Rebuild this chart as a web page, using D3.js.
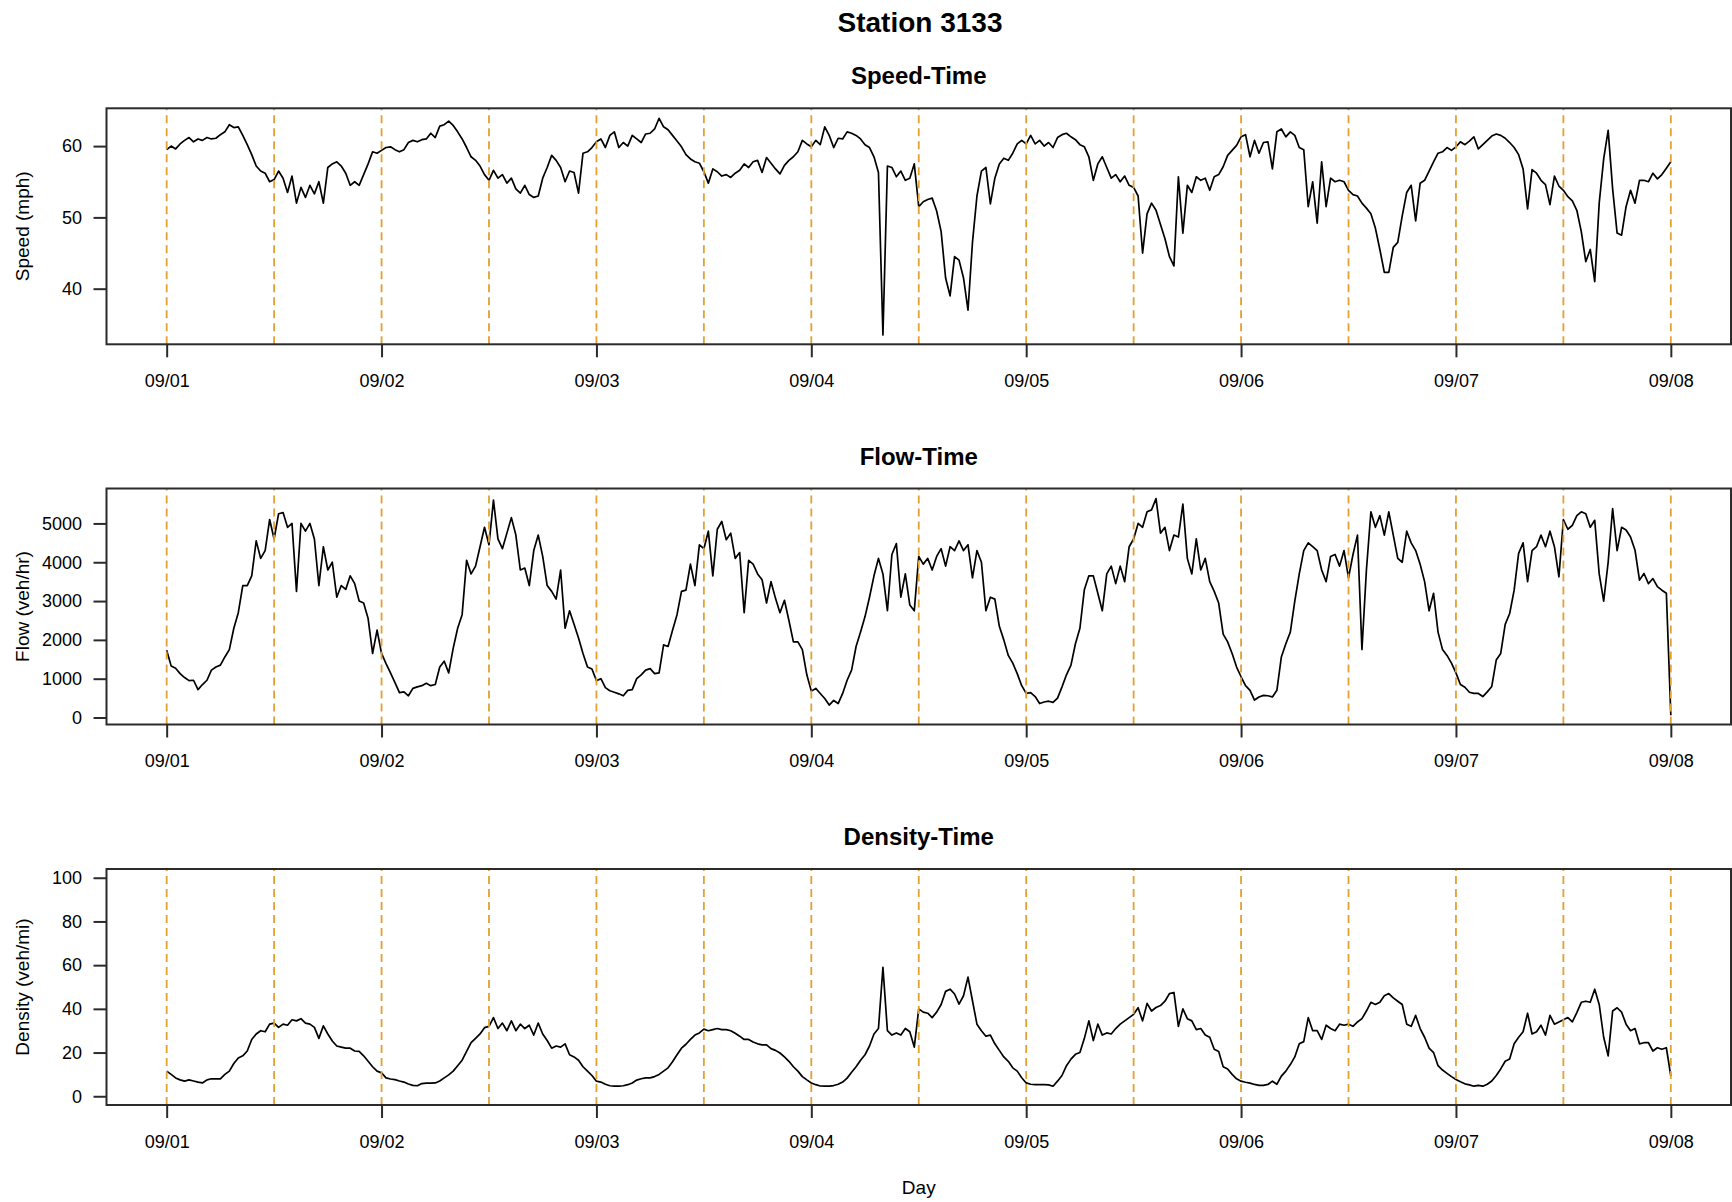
<!DOCTYPE html>
<head>
<meta charset="UTF-8">

<!-- Load d3.js -->
<script src="https://d3js.org/d3.v7.min.js"></script>
<style>
  body { margin: 0; background: #fff; }
  svg { display: block; }
  text { font-family: "Liberation Sans", Arial, sans-serif; fill: #000; }
</style>
</head>

<body>
<div id="my_dataviz"></div>

<script>

// readings every 30 minutes, from 09/01 00:00 up to 09/08 00:00
var stepsPerDay = 48;
var dayLabels = ["09/01", "09/02", "09/03", "09/04", "09/05", "09/06", "09/07", "09/08"];
var halfDays = [0, 0.5, 1, 1.5, 2, 2.5, 3, 3.5, 4, 4.5, 5, 5.5, 6, 6.5, 7];

// speed (mph)
var speed = [
  59.5,60.0,59.6,60.3,60.8,61.2,60.6,61.0,60.8,61.2,61.0,61.1,61.6,62.0,63.0,62.6,62.7,61.5,60.2,58.8,57.2,56.5,56.2,55.0,55.3,56.5,55.5,53.5,55.8,52.0,54.2,52.8,54.5,53.3,55.0,52.0,57.0,57.5,57.8,57.2,56.2,54.5,55.0,54.5,56.0,57.5,59.2,59.0,
  59.4,59.8,59.9,59.5,59.2,59.5,60.5,60.8,60.6,60.9,61.0,61.8,61.2,62.8,63.0,63.5,62.9,62.0,61.0,59.8,58.5,58.0,57.2,56.0,55.2,56.6,55.5,56.0,54.8,55.5,54.0,53.4,54.5,53.2,52.8,53.0,55.5,57.0,58.7,58.0,57.0,55.0,56.5,56.3,53.4,59.0,59.2,59.8,
  60.6,61.0,59.8,61.5,62.0,59.8,60.5,60.0,61.5,61.0,60.5,61.7,61.8,62.4,63.9,62.7,62.3,61.5,60.7,59.9,58.8,58.2,57.8,57.6,56.4,54.8,56.8,56.4,55.8,56.0,55.6,56.2,56.6,57.5,57.0,57.8,58.0,56.3,58.4,57.6,56.8,56.1,57.3,58.0,58.5,59.2,60.8,60.3,
  59.9,60.8,60.2,62.7,61.5,59.8,61.1,61.0,62.0,61.8,61.5,61.0,60.2,59.8,58.5,56.3,33.5,57.2,57.0,55.7,56.5,55.2,55.5,57.5,51.5,52.2,52.5,52.7,50.9,48.0,41.5,39.0,44.5,44.0,41.5,37.0,46.5,53.0,56.5,57.0,51.9,55.5,57.5,58.3,58.0,59.0,60.3,60.8,
  60.3,61.5,60.3,60.8,60.0,60.5,59.8,61.2,61.6,61.8,61.3,60.9,60.2,59.9,58.5,55.2,57.5,58.5,57.0,55.5,56.0,55.0,55.8,54.5,54.2,53.0,45.0,50.5,52.0,51.0,49.0,47.0,44.5,43.2,55.7,47.8,54.5,53.5,55.7,55.2,55.5,53.8,55.7,56.0,57.1,58.7,59.4,60.1,
  61.3,61.6,58.5,60.8,59.0,60.5,60.6,56.8,62.0,62.4,61.3,62.0,61.5,59.8,59.5,51.5,55.0,49.2,57.8,51.5,55.5,55.0,55.2,55.0,53.8,53.2,53.0,52.0,51.3,50.5,48.5,45.5,42.3,42.3,45.8,46.5,50.2,53.5,54.5,49.5,54.8,55.2,56.5,57.8,59.0,59.2,59.8,59.4,
  59.9,60.6,60.2,60.7,61.3,59.6,60.2,60.8,61.4,61.7,61.5,61.1,60.5,59.8,58.8,56.8,51.2,56.7,56.2,55.2,54.6,51.8,55.8,54.4,53.8,52.9,52.3,51.0,48.0,43.8,45.5,41.0,52.0,58.2,62.2,54.0,47.8,47.5,51.5,53.8,52.0,55.2,55.2,55.0,56.2,55.4,56.0,56.9,57.8
];

// flow (veh/hr)
var flow = [
  1735,1330,1270,1130,1030,950,960,720,850,960,1220,1300,1350,1560,1750,2300,2700,3400,3400,3650,4550,4100,4300,5100,4600,5250,5280,4900,5000,3250,5000,4800,5000,4600,3400,4400,3800,4000,3100,3400,3300,3650,3450,3000,2950,2550,1650,2250,
  1650,1390,1150,900,640,660,560,750,790,820,880,820,850,1300,1450,1150,1780,2300,2650,4050,3700,3900,4400,4900,4450,5600,4600,4350,4750,5150,4700,3800,3850,3400,4300,4700,4150,3400,3250,3050,3800,2300,2750,2400,2050,1650,1300,1250,
  950,1000,770,690,650,610,560,700,720,1000,1100,1220,1260,1130,1150,1870,1830,2250,2650,3250,3280,3950,3400,4450,4350,4800,3650,4850,5050,4580,4750,4100,4250,2700,4050,3950,3700,3550,2950,3500,3070,2700,3020,2500,1950,1950,1750,1100,
  680,750,620,490,320,440,360,620,960,1220,1830,2200,2600,3100,3650,4100,3700,2750,4200,4480,3100,3700,2900,2750,4150,3950,4100,3800,4150,4350,3900,4400,4300,4550,4300,4450,3600,4300,4000,2750,3100,3050,2350,2000,1600,1400,1130,820,
  620,640,540,360,400,420,390,500,790,1100,1350,1900,2300,3300,3650,3650,3200,2750,3700,3900,3450,3900,3500,4400,4600,5000,4900,5300,5350,5640,4750,4900,4300,4700,4650,5500,4100,3700,4600,3800,4100,3500,3250,2950,2150,1950,1650,1300,
  1050,820,700,450,530,570,560,530,700,1560,1900,2200,3000,3700,4300,4500,4400,4300,3800,3500,4150,4200,3900,4300,3600,4200,4700,1750,3800,5300,4900,5200,4700,5300,4700,4100,4000,4800,4500,4300,3950,3500,2750,3200,2200,1750,1600,1400,
  1150,850,780,650,620,620,540,660,800,1480,1650,2400,2680,3280,4230,4500,3500,4300,4400,4700,4400,4800,4400,3625,5100,4850,4950,5200,5300,5250,4900,5080,3700,3000,4000,5380,4300,4900,4830,4650,4310,3540,3710,3450,3580,3370,3280,3200,60
];

// density (veh/mi)
var density = [
  11.5,10.0,8.4,7.5,6.9,7.5,7.0,6.5,6.1,7.5,8.0,8.0,8.0,10.0,11.5,15.0,17.5,18.5,20.7,26.0,28.5,30.0,29.5,33.0,33.5,31.5,33.0,32.5,35.0,34.5,35.5,33.5,33.0,31.5,26.5,32.2,28.5,25.3,23.0,22.5,22.0,22.0,20.7,20.5,18.5,16.0,13.5,11.5,
  10.7,8.4,7.9,7.6,7.0,6.5,5.6,5.0,4.8,5.8,6.0,6.0,6.1,7.0,8.4,9.8,11.5,14.0,16.5,20.5,24.5,26.5,28.5,31.4,32.0,36.0,31.0,33.5,30.0,34.5,30.0,33.0,31.0,32.5,28.0,33.5,28.5,25.5,22.0,23.0,22.5,24.0,19.0,18.0,16.5,13.5,11.5,9.5,
  6.9,6.5,5.5,4.8,4.6,4.6,4.8,5.3,6.1,7.4,8.0,8.4,8.4,9.0,10.0,11.5,13.0,15.8,19.0,22.0,23.8,26.0,28.0,29.0,30.7,30.0,30.5,31.0,30.5,30.5,30.0,28.8,27.5,26.0,26.0,24.8,24.0,23.5,23.5,21.8,21.0,19.8,18.0,16.0,13.5,11.5,9.0,7.5,
  6.1,5.3,4.7,4.6,4.6,4.9,5.5,6.5,8.3,11.0,13.5,16.5,19.0,23.0,28.5,31.0,59.0,30.0,28.0,29.0,28.0,31.0,29.5,22.5,40.0,38.5,38.0,36.0,38.5,42.0,48.0,49.0,46.8,42.2,46.0,54.5,43.7,33.0,30.0,27.5,28.0,24.0,21.0,18.0,16.0,13.0,11.5,8.5,
  6.1,5.5,5.3,5.3,5.3,5.2,4.6,6.9,9.5,14.0,17.0,19.2,20.0,26.5,34.5,25.5,33.0,28.0,29.0,28.5,31.0,33.0,34.5,36.0,37.5,40.5,34.5,42.5,39.0,40.6,41.5,43.5,47.0,47.5,32.0,40.0,35.5,34.5,30.5,31.0,28.0,27.0,21.5,20.5,13.5,12.5,10.0,8.0,
  6.9,6.4,6.0,5.4,5.0,5.0,5.4,6.9,5.5,9.2,11.5,14.5,18.0,24.0,25.0,36.0,30.0,30.0,26.0,32.5,31.0,30.0,33.0,32.5,33.0,32.0,34.0,35.5,39.0,43.0,42.0,43.0,46.0,47.0,45.0,43.5,42.0,33.0,32.0,37.0,31.0,27.0,22.0,20.0,14.0,12.0,10.5,9.0,
  7.7,6.6,5.7,5.2,4.6,5.0,4.6,5.5,7.0,9.5,12.5,16.0,17.0,24.0,27.0,29.5,38.0,28.5,29.5,32.5,28.0,37.0,33.0,34.0,35.0,36.0,34.0,38.3,43.0,43.5,43.0,49.0,42.0,27.0,18.5,39.0,40.5,38.5,33.0,30.0,31.0,24.0,24.5,24.5,20.7,22.2,21.5,22.2,9.2
];

var speedTicks = [40, 50, 60];
var flowTicks = [0, 1000, 2000, 3000, 4000, 5000];
var densityTicks = [0, 20, 40, 60, 80, 100];

// set the dimensions of the page and of each panel
var width = 1732, height = 1202;
var boxLeft = 106.5, boxRight = 1731, boxHeight = 236;
var midX = (boxLeft + boxRight) / 2;

var svg = d3.select("#my_dataviz")
  .append("svg")
    .attr("width", width)
    .attr("height", height);

// time axis in days since 09/01 00:00 (R style 4% padding)
var x = d3.scaleLinear()
  .domain([-0.28, 7.28])
  .range([boxLeft, boxRight]);

var panels = [
  { title: "Speed-Time",   label: "Speed (mph)",      values: speed,   ticks: speedTicks,   domain: [32.2, 65.3], top: 108.3 },
  { title: "Flow-Time",    label: "Flow (veh/hr)",    values: flow,    ticks: flowTicks,    domain: [-180, 5900], top: 488.5 },
  { title: "Density-Time", label: "Density (veh/mi)", values: density, ticks: densityTicks, domain: [-4, 104],    top: 869 }
];

panels.forEach(function(p) {
  var y = d3.scaleLinear()
    .domain(p.domain)
    .range([p.top + boxHeight, p.top]);

  var g = svg.append("g");

  // the series
  var line = d3.line()
    .x(function(d, i) { return x(i / stepsPerDay); })
    .y(function(d) { return y(d); });

  g.append("path")
    .datum(p.values)
    .attr("fill", "none")
    .attr("stroke", "#000")
    .attr("stroke-width", 1.7)
    .attr("stroke-linejoin", "round")
    .attr("d", line);

  // dashed lines every 12 hours
  g.selectAll(".half")
    .data(halfDays)
    .enter()
    .append("line")
      .attr("x1", function(d) { return x(d); })
      .attr("x2", function(d) { return x(d); })
      .attr("y1", p.top + boxHeight)
      .attr("y2", p.top)
      .attr("stroke", "#E3A033")
      .attr("stroke-width", 1.8)
      .attr("stroke-dasharray", "8,5");

  // box
  g.append("rect")
    .attr("x", boxLeft)
    .attr("y", p.top)
    .attr("width", boxRight - boxLeft)
    .attr("height", boxHeight)
    .attr("fill", "none")
    .attr("stroke", "#2b2b2b")
    .attr("stroke-width", 2);

  // X axis
  var xAxis = g.append("g")
    .attr("transform", "translate(0," + (p.top + boxHeight) + ")")
    .call(d3.axisBottom(x)
      .tickValues(d3.range(dayLabels.length))
      .tickFormat(function(d) { return dayLabels[d]; })
      .tickSize(13)
      .tickPadding(17));
  xAxis.select(".domain").remove();

  // Y axis
  var yAxis = g.append("g")
    .attr("transform", "translate(" + boxLeft + ",0)")
    .call(d3.axisLeft(y)
      .tickValues(p.ticks)
      .tickFormat(d3.format("d"))
      .tickSize(13)
      .tickPadding(11.5));
  yAxis.select(".domain").remove();

  [xAxis, yAxis].forEach(function(a) {
    a.attr("font-family", null).attr("font-size", null);
    a.selectAll(".tick line").attr("stroke", "#2b2b2b").attr("stroke-width", 2);
    a.selectAll(".tick text").style("font-size", "18px").attr("fill", "#000");
  });

  // panel title
  g.append("text")
    .attr("x", midX)
    .attr("y", p.top - 24)
    .attr("text-anchor", "middle")
    .style("font-size", "24px")
    .style("font-weight", "bold")
    .text(p.title);

  // y label
  g.append("text")
    .attr("transform", "translate(28.5," + (p.top + boxHeight / 2) + ") rotate(-90)")
    .attr("text-anchor", "middle")
    .style("font-size", "19px")
    .text(p.label);
});

// Add title to graph
svg.append("text")
  .attr("x", 920)
  .attr("y", 31.7)
  .attr("text-anchor", "middle")
  .style("font-size", "28px")
  .style("font-weight", "bold")
  .text("Station 3133");

// x label
svg.append("text")
  .attr("x", midX)
  .attr("y", 1194)
  .attr("text-anchor", "middle")
  .style("font-size", "19px")
  .text("Day");

</script>

</body>
